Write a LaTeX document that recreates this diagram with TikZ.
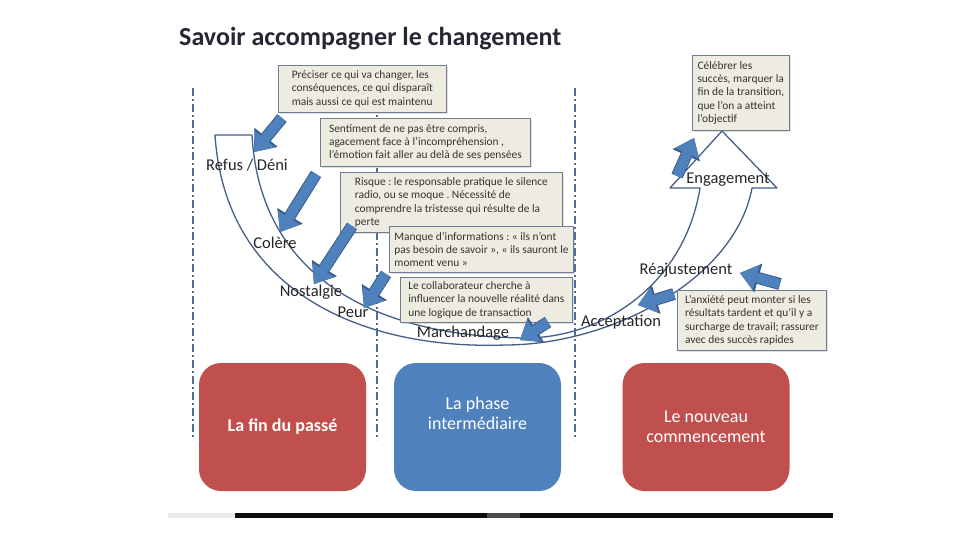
\documentclass[tikz,border=0pt]{standalone}
\usepackage{fontspec}
\setmainfont{Carlito}
\usepackage{xcolor}
\usepackage{tikz}
\usetikzlibrary{arrows.meta, positioning, shadows}
\frenchspacing
\definecolor{boxfill}{RGB}{238,236,225}
\definecolor{boxline}{RGB}{110,125,148}
\definecolor{curveline}{RGB}{68,94,134}
\definecolor{guideline}{RGB}{78,110,152}
\definecolor{ptrblue}{RGB}{79,129,189}
\definecolor{ptrline}{RGB}{56,93,138}
\definecolor{phasered}{RGB}{192,80,77}
\definecolor{phaseblue}{RGB}{79,129,189}
\definecolor{titlecol}{RGB}{38,38,52}
\tikzstyle{bigcurve} = [draw=curveline, line width=1.3pt, fill=white, line join=round]
\tikzstyle{guide} = [draw=guideline, line width=1.6pt, dash pattern=on 8pt off 3pt on 2pt off 3pt]
\tikzstyle{callout} = [draw=boxline, line width=0.8pt, fill=boxfill, anchor=north west, align=left,
    inner xsep=5pt, inner ysep=3pt, font=\fontsize{11.4}{13.3}\selectfont, text=black!80,
    drop shadow={opacity=0.25, shadow xshift=1.5pt, shadow yshift=-1.5pt}]
\tikzstyle{pointer} = [draw=ptrblue, line width=10pt, -{Triangle[length=17pt, width=26pt, line width=0pt]},
    preaction={draw=ptrline, line width=12pt, -{Triangle[length=19pt, width=30pt, line width=0pt]}}]
\tikzstyle{stage} = [font=\fontsize{16.5}{20}\selectfont, inner sep=0pt, text=black!85]
\tikzstyle{phase} = [rounded corners=22pt, minimum width=167pt, minimum height=128pt, text=white,
    align=center, inner sep=0pt, font=\fontsize{18}{20}\selectfont]

\begin{document}
\begin{tikzpicture}[x=1pt, y=-1pt]
    \useasboundingbox (0,0) rectangle (958,539);
    \fill[white] (0,0) rectangle (958,539);

    \node[anchor=west, inner sep=0pt, text=titlecol, font=\fontsize{26}{30}\selectfont\bfseries]
    (titre) at (179,38.5) {Savoir accompagner le changement};

    % grande fleche courbe
    \draw[bigcurve] (215,135) .. controls (225,290) and (360,350) .. (505,345)
    .. controls (610,345) and (735,280) .. (752,188)
    -- (777,188) -- (722,131) -- (670,188) -- (700,188)
    .. controls (685,280) and (610,335) .. (530,338)
    .. controls (380,338) and (260,280) .. (252,135) -- cycle;

    \foreach \x in {193,377,575} \draw[guide] (\x,88) -- (\x,440);

    \node[callout, minimum width=168pt, minimum height=47pt] (preciser) at (278,65)
    {Préciser ce qui va changer, les\\conséquences, ce qui disparaît\\mais aussi ce qui est maintenu};
    \node[callout, minimum width=210pt, minimum height=48pt] (sentiment) at (320,118)
    {Sentiment de ne pas être compris,\\agacement face à l'incompréhension ,\\l'émotion fait aller au delà de ses pensées};
    \node[callout, minimum width=222pt, minimum height=60pt] (risque) at (340,172)
    {Risque : le responsable pratique le silence\\radio, ou se moque . Nécessité de\\comprendre la tristesse qui résulte de la\\perte};
    \node[callout, minimum width=184pt, minimum height=46pt] (manque) at (389,226)
    {Manque d'informations : « ils n'ont\\pas besoin de savoir », « ils sauront le\\moment venu »};
    \node[callout, minimum width=172pt, minimum height=45pt] (collab) at (400,277)
    {Le collaborateur cherche à\\influencer la nouvelle réalité dans\\une logique de transaction};
    \node[callout, minimum width=97pt, minimum height=75pt] (celebrer) at (692,55)
    {Célébrer les\\succès, marquer la\\fin de la transition,\\que l'on a atteint\\l'objectif};
    \node[callout, minimum width=149pt, minimum height=60pt] (anxiete) at (677,290)
    {L'anxiété peut monter si les\\résultats tardent et qu'il y a\\surcharge de travail; rassurer\\avec des succès rapides};

    \coordinate (pa) at (282,118);  \coordinate (qa) at (254,152);
    \coordinate (pb) at (316,174);  \coordinate (qb) at (280,232);
    \coordinate (pc) at (352,226);  \coordinate (qc) at (314,284);
    \coordinate (pd) at (386,274);  \coordinate (qd) at (364,308);
    \coordinate (pe) at (548,322);  \coordinate (qe) at (520,340);
    \coordinate (pf) at (674,294);  \coordinate (qf) at (638,305);
    \coordinate (pg) at (780,284);  \coordinate (qg) at (740,273);
    \coordinate (ph) at (677,176);  \coordinate (qh) at (694,138);
    \foreach \p/\q in {pa/qa, pb/qb, pc/qc, pd/qd, pe/qe, pf/qf, pg/qg, ph/qh}
        \draw[pointer] (\p) -- (\q);

    \node[stage] (refus) at (247,165) {Refus / Déni};
    \node[stage] (colere) at (275,243) {Colère};
    \node[stage] (nostalgie) at (311,292) {Nostalgie};
    \node[stage] (peur) at (353,312) {Peur};
    \node[stage] (marchandage) at (463,333) {Marchandage};
    \node[stage] (acceptation) at (621,322) {Acceptation};
    \node[stage] (reajustement) at (686,270) {Réajustement};
    \node[stage] (engagement) at (728,180) {Engagement};

    \node[phase, fill=phasered] (fin) at (282.5,427) {\bfseries La fin du passé};
    \node[phase, fill=phaseblue] (milieu) at (477.5,427) {};
    \node[text=white, align=center, inner sep=0pt, font=\fontsize{18}{20}\selectfont]
    (milieutxt) at ([yshift=14pt]milieu.center) {La phase\\intermédiaire};
    \node[phase, fill=phasered] (nouveau) at (706,427) {Le nouveau\\commencement};

    \fill[black!8] (168,513) rectangle (235,518);
    \fill[black!95] (235,513) rectangle (833,518);
    \fill[black!70] (487,513) rectangle (520,518);
\end{tikzpicture}
\end{document}
